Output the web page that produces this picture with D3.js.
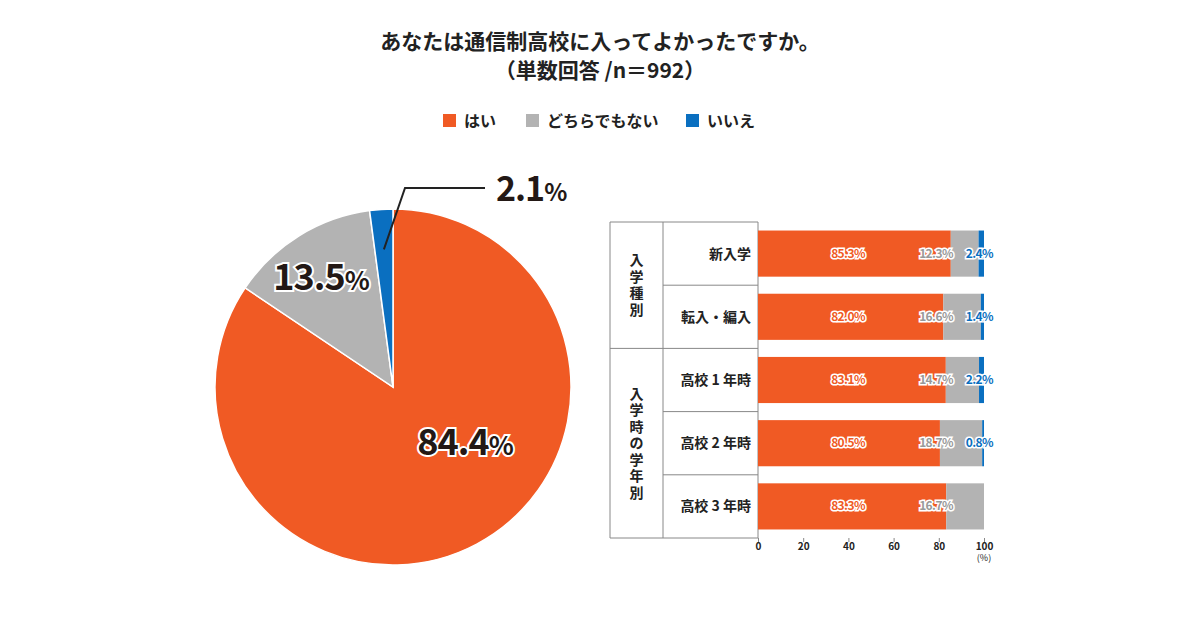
<!DOCTYPE html>
<html><head><meta charset="utf-8">
<script src="https://cdn.jsdelivr.net/npm/d3@7"></script>
<style>body{margin:0;background:#fff}text{font-family:"Noto Sans CJK JP",sans-serif}</style>
</head><body><svg id="c" width="1200" height="630"></svg>
<script>
var seriesNames = ["はい", "どちらでもない", "いいえ"];
var colors = ["#f05a24", "#b3b3b3", "#0a6fc0"];
var pieValues = [84.4, 13.5, 2.1];
var rowLabels = ["新入学", "転入・編入", "高校 1 年時", "高校 2 年時", "高校 3 年時"];
var yesVals = [85.3, 82.0, 83.1, 80.5, 83.3];
var neutralVals = [12.3, 16.6, 14.7, 18.7, 16.7];
var noVals = [2.4, 1.4, 2.2, 0.8, 0];
var groups = [{name: "入学種別", rows: 2}, {name: "入学時の学年別", rows: 3}];
var ticks = [0, 20, 40, 60, 80, 100];

var svg = d3.select("#c");
svg.append("text").attr("x", 600).attr("y", 49).attr("text-anchor", "middle")
  .attr("font-size", 21).attr("font-weight", "bold").attr("fill", "#222").text("あなたは通信制高校に入ってよかったですか。");
svg.append("text").attr("x", 600).attr("y", 78).attr("text-anchor", "middle")
  .attr("font-size", 21).attr("font-weight", "bold").attr("fill", "#222").text("（単数回答 /n＝992）");

// legend
var lx = [443, 526, 686];
seriesNames.forEach(function(n, i) {
  svg.append("rect").attr("x", lx[i]).attr("y", 114).attr("width", 13).attr("height", 13).attr("fill", colors[i]);
  svg.append("text").attr("x", lx[i] + 21).attr("y", 127).attr("font-size", 16).attr("font-weight", "bold").attr("fill", "#222").text(n);
});

// pie
var cx = 393, cy = 387, r = 178;
var pie = d3.pie().sort(null)(pieValues);
var arc = d3.arc().innerRadius(0).outerRadius(r);
var pg = svg.append("g").attr("transform", "translate(" + cx + "," + cy + ")");
pg.selectAll("path").data(pie).enter().append("path")
  .attr("d", arc).attr("fill", function(d, i) { return colors[i]; })
  .attr("stroke", "#fff").attr("stroke-width", 1.5);
var labPos = [[72, 68], [-72, -97]];
[0, 1].forEach(function(i) {
  var t = pg.append("text").attr("x", labPos[i][0]).attr("y", labPos[i][1]).attr("text-anchor", "middle")
    .attr("font-family", "Roboto").attr("font-weight", "bold").attr("fill", "#231815")
    .attr("stroke", "#fff").attr("stroke-width", 4).attr("paint-order", "stroke").attr("letter-spacing", -1);
  t.append("tspan").attr("font-size", 36).text(pieValues[i].toFixed(1));
  t.append("tspan").attr("font-size", 26).text("%");
});
var bc = arc.centroid(pie[2]);
var bp = [bc[0] * 1.55, bc[1] * 1.55];
pg.append("polyline").attr("points", [[bp[0], bp[1]], [12, -199], [92, -199]].join(" "))
  .attr("fill", "none").attr("stroke", "#222").attr("stroke-width", 2);
var t2 = pg.append("text").attr("x", 103).attr("y", -186).attr("font-family", "Roboto")
  .attr("font-weight", "bold").attr("fill", "#231815").attr("letter-spacing", -1);
t2.append("tspan").attr("font-size", 34).text(pieValues[2].toFixed(1));
t2.append("tspan").attr("font-size", 24).text("%");

// bar table
var tl = 610, tc = 663, bl = 758, br = 984, tt = 222, tb = 538;
var x = d3.scaleLinear().domain([0, 100]).range([bl, br]);
var y = d3.scaleBand().domain(rowLabels).range([tt, tb]).paddingInner(0.27).paddingOuter(0.135);
var rowH = (tb - tt) / rowLabels.length;
var grid = svg.append("g").attr("stroke", "#888").attr("stroke-width", 1).attr("fill", "none");
grid.append("path").attr("d", "M" + bl + "," + tt + "H" + tl + "V" + tb + "H" + bl + "V" + tt);
grid.append("path").attr("d", "M" + tc + "," + tt + "V" + tb);
rowLabels.forEach(function(d, i) {
  if (i > 0) grid.append("path").attr("d", "M" + (i == 2 ? tl : tc) + "," + (tt + i * rowH) + "H" + bl);
  svg.append("text").attr("x", bl - 7).attr("y", tt + (i + 0.5) * rowH + 5).attr("text-anchor", "end")
    .attr("font-size", 14).attr("font-weight", "bold").attr("fill", "#222").text(d);
});
var gi = 0;
groups.forEach(function(g) {
  var mid = tt + (gi + g.rows / 2) * rowH;
  var chars = g.name.split("");
  chars.forEach(function(ch, k) {
    svg.append("text").attr("x", (tl + tc) / 2).attr("y", mid + (k - (chars.length - 1) / 2) * 16.5 + 5)
      .attr("text-anchor", "middle").attr("font-size", 14).attr("font-weight", "bold").attr("fill", "#222").text(ch);
  });
  gi += g.rows;
});
var stack = rowLabels.map(function(d, i) { return [yesVals[i], neutralVals[i], noVals[i]]; });
var labX = [848, 936, 993];
stack.forEach(function(vals, i) {
  var acc = 0;
  vals.forEach(function(v, j) {
    if (v > 0) svg.append("rect").attr("x", x(acc)).attr("y", y(rowLabels[i])).attr("width", x(acc + v) - x(acc))
      .attr("height", y.bandwidth()).attr("fill", colors[j]);
    acc += v;
    if (v > 0) svg.append("text").attr("x", labX[j]).attr("y", y(rowLabels[i]) + y.bandwidth() / 2 + 4)
      .attr("text-anchor", j == 2 ? "end" : "middle").attr("font-size", 12).attr("font-weight", "bold")
      .attr("letter-spacing", -0.6)
      .attr("fill", colors[j] == "#b3b3b3" ? "#999" : colors[j]).attr("stroke", "#fff").attr("stroke-width", 3)
      .attr("paint-order", "stroke").text(v.toFixed(1) + "%");
  });
});
var ax = svg.append("g").attr("transform", "translate(0," + tb + ")")
  .call(d3.axisBottom(x).tickValues(ticks).tickSize(4).tickFormat(d3.format("d")));
ax.select(".domain").remove();
ax.selectAll("text").attr("font-size", 10).attr("font-weight", "bold").attr("fill", "#222").attr("dy", "0.5em");
ax.selectAll("line").attr("stroke", "#888");
svg.append("text").attr("x", br).attr("y", 561).attr("text-anchor", "middle").attr("font-size", 9).attr("fill", "#222").text("(%)");
</script></body></html>
